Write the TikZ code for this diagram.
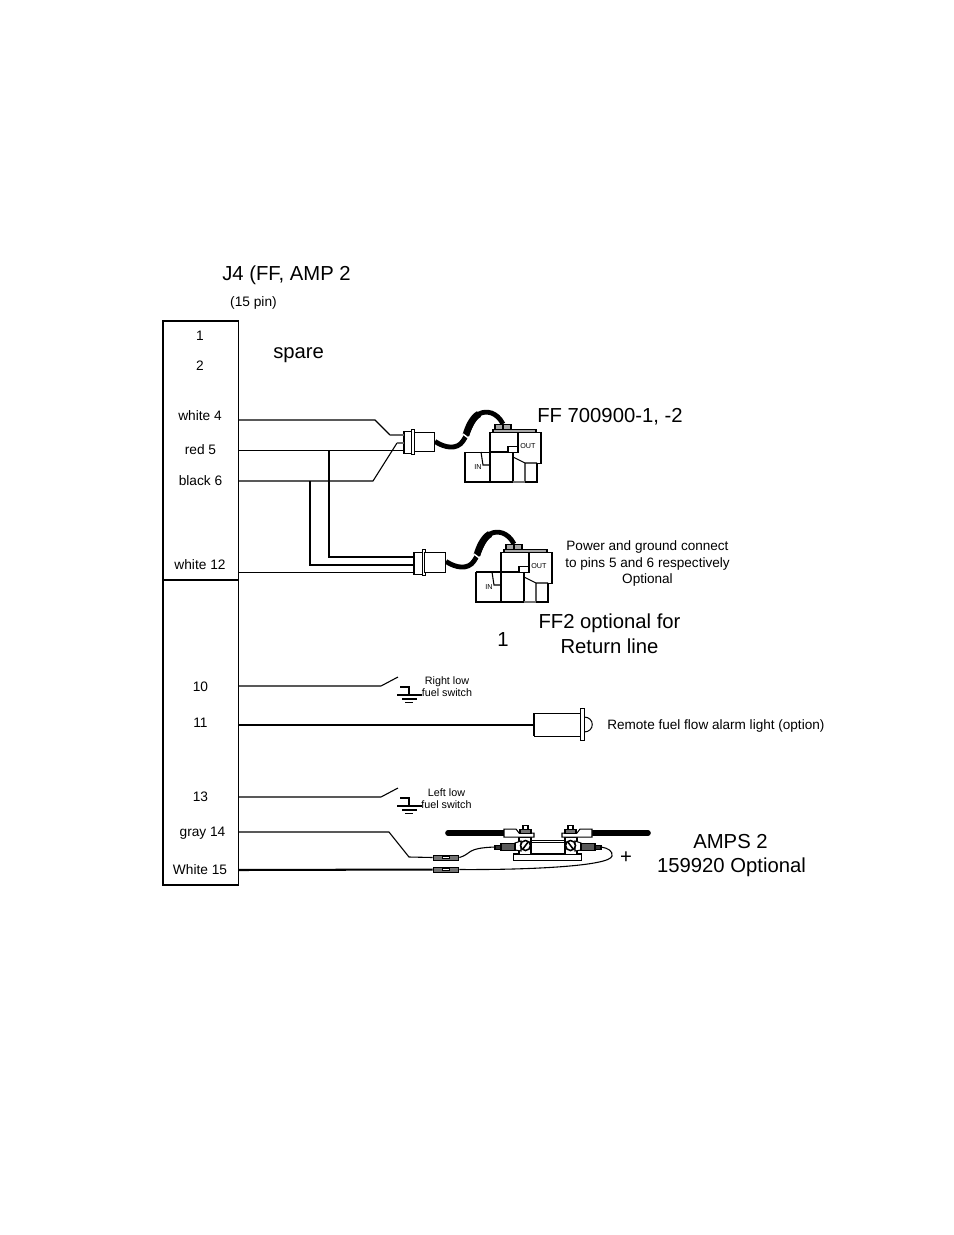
\documentclass[tikz,border=0pt]{standalone}
\usepackage{fontspec}
\setmainfont{Liberation Sans}
\usetikzlibrary{arrows.meta}
\usetikzlibrary{shapes}

\tikzset{
    thin wire/.style={line width=0.7pt},
    thick wire/.style={line width=1.3pt},
    hose/.style={line width=3.1pt},
    part/.style={draw, line width=0.65pt, fill=white},
    big label/.style={inner sep=0pt, font=\fontsize{13}{15}\selectfont},
    pin label/.style={inner sep=0pt, font=\fontsize{8.8}{10.6}\selectfont},
    note label/.style={inner sep=0pt, align=center, font=\fontsize{8.7}{10.3}\selectfont},
    small label/.style={inner sep=0pt, align=center, font=\fontsize{6.9}{7.6}\selectfont},
    tiny label/.style={inner sep=0pt, font=\fontsize{4.6}{5}\selectfont},
    ffvalve/.pic={
        % hose from plug to valve
        \draw[hose] (-30,9.5) .. controls (-20,16) and (-8,18) .. (-2,9)
            .. controls (3,2) and (6,-12) .. (14,-18) .. controls (21,-22) and (32,-20) .. (38,-8);
        \draw[line width=4.4pt] (1,3) .. controls (3,-4) and (7,-14) .. (14,-18);
        \draw[white, line width=0.9pt] (-2,2) -- (6,8);
        % valve body
        \draw[part] (0,20) -- (25,20) -- (25,0) -- (76,0) -- (76,31) -- (72,31) -- (72,50) -- (0,50) -- cycle;
        \draw[thin wire] (25,20) -- (48,20) -- (48,50) (25,20) -- (25,50) (53,0) -- (53,14);
        \draw[thin wire] (48,25) -- (60,31) -- (72,31) (60,31) -- (60,50);
        \draw[line width=1.1pt] (0,50) -- (48,50) (60,50) -- (72,50);
        \draw[line width=1.1pt, black!55] (48,50) -- (60,50);
        \draw[part] (43,14) rectangle (53,20);
        \draw[part, fill=black!35] (30,-8) rectangle (46,-3);
        \draw[thin wire] (38,-8) -- (38,-3);
        \draw[part, fill=black!35] (28,-3) rectangle (71,0);
        \draw[thin wire] (16,20) -- (18,33) -- (25,33);
        \node[tiny label] at (13,35) {IN};
        \node[tiny label, anchor=west] at (55,14) {OUT};
    }
}

\begin{document}
\begin{tikzpicture}[x=0.6415pt, y=-0.6415pt]
    \useasboundingbox (0,0) rectangle (954,1235);

    % Declare the connector block
    \node[big label, anchor=base west] at (222,280) (title) {J4 (FF, AMP 2};
    \node[pin label, anchor=base] at (253.5,306) (pincount) {(15 pin)};
    \coordinate (boxtl) at (163,321);
    \coordinate (boxbr) at (238.5,885);
    \draw[thin wire] (boxtl) rectangle (boxbr);
    \coordinate (divl) at (163,580);
    \coordinate (divr) at (238.5,580);
    \draw[thick wire] (divl) -- (divr);

    % Declare the pin labels
    \node[pin label, anchor=base] at (200,340) (pin1) {1};
    \node[pin label, anchor=base] at (200,370) (pin2) {2};
    \node[pin label, anchor=base] at (200,420) (pin4) {white 4};
    \node[pin label, anchor=base] at (200.5,454) (pin5) {red 5};
    \node[pin label, anchor=base] at (200.5,485) (pin6) {black 6};
    \node[pin label, anchor=base] at (200,569) (pin12) {white 12};
    \node[pin label, anchor=base] at (200.5,691) (pin10) {10};
    \node[pin label, anchor=base] at (200.5,727) (pin11) {11};
    \node[pin label, anchor=base] at (200.5,801) (pin13) {13};
    \node[pin label, anchor=base] at (202.5,836) (pin14) {gray 14};
    \node[pin label, anchor=base] at (200,874) (pin15) {White 15};

    % Declare the wire ends on the block
    \coordinate (w4) at (238.5,420);
    \coordinate (w5) at (238.5,450.4);
    \coordinate (w6) at (238.5,481);
    \coordinate (w12) at (238.5,572.6);
    \coordinate (w10) at (238.5,686);
    \coordinate (w11) at (238.5,725);
    \coordinate (w13) at (238.5,797);
    \coordinate (w14) at (238.5,832);
    \coordinate (w15) at (238.5,870);

    % Declare the flow sensors
    \pic at (465,432) {ffvalve};
    \pic at (476,552) {ffvalve};
    \draw[line width=1.1pt] (476,572) -- (501,572);

    % Declare the plugs
    \draw[part] (404,431) rectangle (412,453);
    \node[part, minimum width=1.5pt, minimum height=16.5pt, inner sep=0pt] at (413,442) (flange1) {};
    \node[part, minimum width=13.2pt, minimum height=12.8pt, inner sep=0pt] at (424.5,442) (body1) {};
    \draw[part] (414,552) rectangle (423,574);
    \node[part, minimum width=1.5pt, minimum height=16.5pt, inner sep=0pt] at (424,562.5) (flange2) {};
    \node[part, minimum width=13.2pt, minimum height=12.8pt, inner sep=0pt] at (435,562.5) (body2) {};

    % Declare the sensor wires
    \coordinate (in4) at (404,435);
    \coordinate (in5) at (404,450.4);
    \coordinate (in6) at (404,443);
    \coordinate (in7) at (414,557);
    \coordinate (in8) at (414,565);
    \coordinate (in9) at (414,572.6);
    \draw[thin wire] (w4) -- (375,420) -- (390,435);
    \draw[line width=1pt, black!60] (390,435) -- (in4);
    \draw[thin wire] (w5) -- (in5);
    \draw[thin wire] (w6) -- (373,481) -- (397,443);
    \draw[line width=1pt, black!60] (397,443) -- (in6);
    \draw[thick wire] (310,481) -- (310,565) -- (in8);
    \draw[thick wire] (329,450) -- (329,557) -- (in7);
    \draw[thin wire] (w12) -- (in9);

    % Declare the low fuel switches
    \foreach \dy/\wend in {0/w10, 111/w13} {
        \begin{scope}[yshift=-\dy*0.6415pt]
            \draw[thin wire] (\wend |- 0,686) -- (381,686) -- (398,677);
            \draw[thin wire] (400,687) -- (409,687) -- (409,695);
            \draw[thin wire] (397,695) -- (422,695) (402,699) -- (417,699) (405,702.5) -- (413,702.5);
        \end{scope}
    }
    \node[small label] at (447,687) (rightlow) {Right low\\fuel switch};
    \node[small label] at (446.5,799) (leftlow) {Left low\\fuel switch};

    % Declare the alarm light
    \node[part, minimum width=30pt, minimum height=14.6pt, inner sep=0pt] at (557.5,725) (lamp) {};
    \draw[part] (584,717) .. controls (595,717) and (595,732) .. (584,732) -- cycle;
    \node[part, minimum width=2pt, minimum height=20pt, inner sep=0pt] at (582.5,724.5) (lampflange) {};
    \draw[thick wire] (w11) -- (lamp.west);
    \draw[line width=1.4pt] (534,713) -- (534,736);

    % Declare the shunt
    \draw[line width=3.6pt, line cap=round] (448,833) -- (505,833);
    \draw[line width=3.6pt, line cap=round] (593,833) -- (648,833);
    \draw[part] (531,840) rectangle (565,854);
    \draw[thin wire] (531,842.5) -- (565,842.5);
    \node[part, line width=0.8pt, minimum width=44pt, minimum height=4pt, inner sep=0pt] at (547.5,857) (shuntbase) {};
    \foreach \xo/\mir in {504/1, 592/-1} {
        \begin{scope}[shift={(\xo,0)}, xscale=\mir]
            \draw[part] (15,837) rectangle (27,854);
            \draw[part] (0,829) -- (12,829) -- (15,833) -- (30,833) -- (30,837) -- (0,837) -- cycle;
            \draw[part] (19,825) rectangle (24,829);
            \draw[part, fill=black!55] (16,829) rectangle (27,833);
            \draw[part] (11,843) -- (17,841) -- (17,851) -- (11,850) -- cycle;
            \draw[part, fill=black!65] (-3,843) rectangle (11,850);
            \draw[part, fill=black!80] (-9,845) rectangle (-3,849);
            \draw[line width=1pt, fill=white] (21.5,845.5) circle[radius=5];
            \draw[line width=1pt] (18.5,849.5) -- (24.5,841.5);
        \end{scope}
    }

    % Declare the butt connectors
    \foreach \n/\cy in {a/857.5, b/869.5} {
        \node[part, fill=black!55, minimum width=16.5pt, minimum height=3.2pt, inner sep=0pt] at (446,\cy) (butt\n) {};
        \node[part, minimum width=5pt, minimum height=1.6pt, inner sep=0pt] at (446,\cy) (buttin\n) {};
    }
    \coordinate (lugl) at (495,847);
    \coordinate (lugr) at (601,847);
    \draw[thin wire] (w14) -- (389,832) -- (409,857) -- (butta.west);
    \draw[thick wire] (w15) -- (buttb.west);
    \draw[thin wire] (butta.east) .. controls (472,854) and (465,848) .. (lugl);
    \draw[thin wire] (buttb.east) .. controls (530,870) and (610,866) .. (612,856)
        .. controls (613,851) and (608,848) .. (lugr);

    % Declare the other labels
    \node[big label, anchor=base west] at (273,358) (spare) {spare};
    \node[big label, anchor=base west] at (537,422) (ffone) {FF 700900-1, -2};
    \node[note label] at (647.5,563.5) (ffnote) {Power and ground connect\\to pins 5 and 6 respectively\\Optional};
    \node[big label, anchor=base] at (609.5,628) (fftwoa) {FF2 optional for};
    \node[big label, anchor=base] at (609.5,653) (fftwob) {Return line};
    \node[big label, anchor=base] at (503,646) (one) {1};
    \node[note label, anchor=west] at (607,725.5) (lamptext) {Remote fuel flow alarm light (option)};
    \node[big label] at (626,858) (plus) {+};
    \node[big label, anchor=base] at (730.5,848) (ampsa) {AMPS 2};
    \node[big label, anchor=base] at (731.5,872) (ampsb) {159920 Optional};

\end{tikzpicture}
\end{document}
